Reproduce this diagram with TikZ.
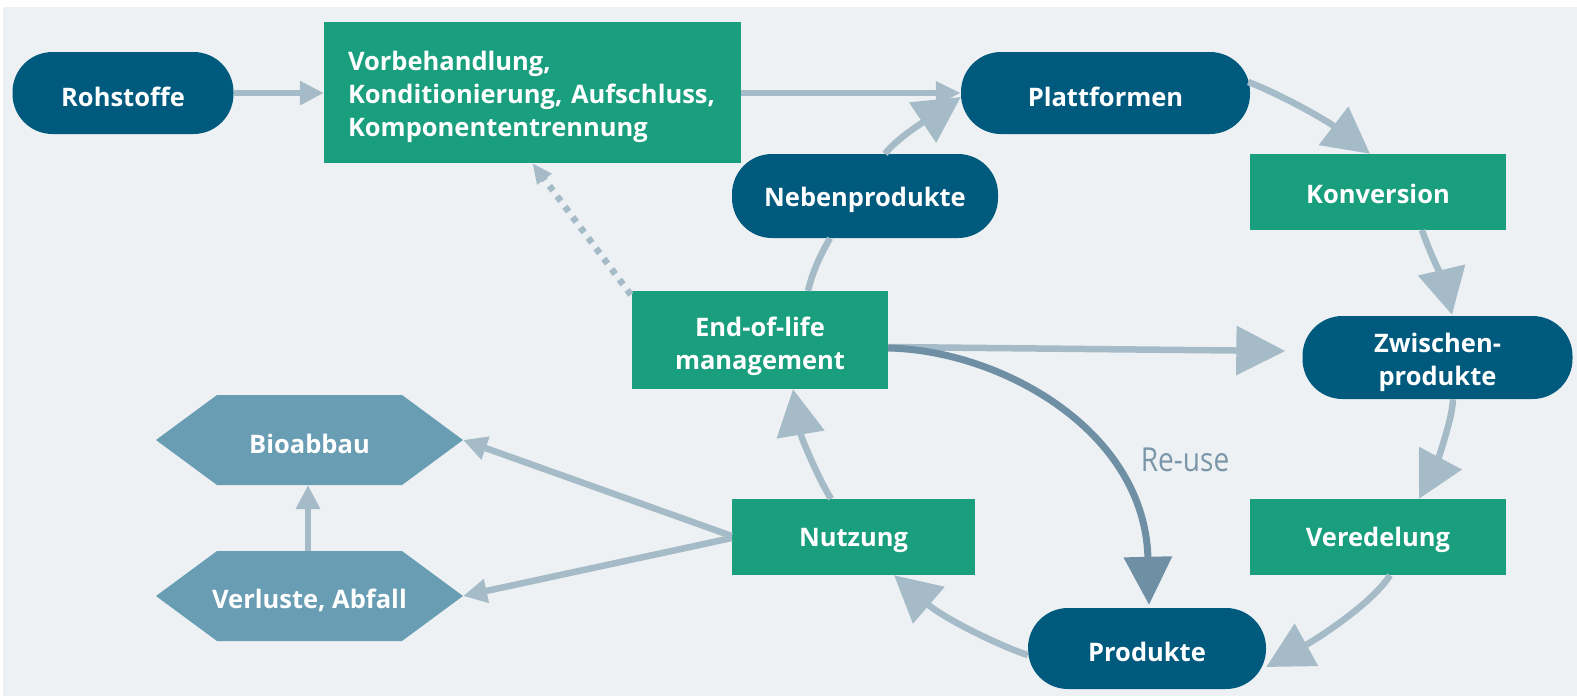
\documentclass[tikz,border=0pt]{standalone}
\usepackage{fontspec}
\usepackage{graphicx}
\setmainfont{Open Sans}
\usetikzlibrary{arrows.meta}
\definecolor{bgc}{HTML}{EDF1F4}
\definecolor{dblue}{HTML}{005A7E}
\definecolor{tgreen}{HTML}{199E7E}
\definecolor{hexc}{HTML}{689DB3}
\definecolor{arrc}{HTML}{A6BBC8}
\definecolor{reusec}{HTML}{6E8FA4}
\definecolor{reusetxt}{HTML}{7B96A8}
\begin{document}
\begin{tikzpicture}[x=1pt,y=-1pt,
  lbl/.style={text=white, font=\fontsize{25.5}{32.8}\selectfont\bfseries, align=center, inner sep=0pt},
  oneline/.style={text height=#1, text depth=0pt},
  oneline/.default=22pt,
  pill/.style={lbl, fill=dblue, rounded corners=40pt},
  gbox/.style={lbl, fill=tgreen},
  conn/.style={draw=arrc, line width=6.5pt},
  bighead/.style={-{Triangle[length=46pt,width=47pt]}},
  smallhead/.style={-{Triangle[length=24pt,width=23pt]}},
  reuse/.style={draw=reusec, line width=7pt, -{Triangle[length=48pt,width=47pt]}},
]
\useasboundingbox (0,0) rectangle (1577,697);
\fill[white] (0,0) rectangle (1577,697);
\fill[bgc] (3,7) rectangle (1577,696);

% hexagons
\coordinate (bioc) at (309.5,440);
\coordinate (verlc) at (309.5,596);
\fill[hexc, shift={(bioc)}] (-153.5,0) -- (-92.5,-45) -- (92.5,-45) -- (153.5,0) -- (92.5,45) -- (-92.5,45) -- cycle;
\fill[hexc, shift={(verlc)}] (-153.5,0) -- (-92.5,-45) -- (92.5,-45) -- (153.5,0) -- (92.5,45) -- (-92.5,45) -- cycle;
\node[lbl, oneline=27.2pt] (bio) at (bioc) {Bioabbau};
\node[lbl, oneline=25.2pt] (verl) at (verlc) {Verluste, Abfall};
\coordinate (bioR) at (463,440);
\coordinate (bioB) at (308,485);
\coordinate (verlR) at (463,596);
\coordinate (verlT) at (308,551);

% nodes
\node[pill, oneline=27.2pt, minimum width=221pt, minimum height=82pt] (roh) at (123,93) {Rohstoffe};
\node[gbox, minimum width=417pt, minimum height=141pt, text width=369pt, align=left, inner xsep=24pt] (vor) at (532.5,92.5) {\raisebox{-4.5pt}[\height][\depth]{\begin{tabular}{@{}l@{}}Vorbehandlung,\\Konditionierung, Aufschluss,\\Komponententrennung\end{tabular}}};
\node[pill, oneline=27.2pt, minimum width=289pt, minimum height=82pt] (plat) at (1105.5,93) {Plattformen};
\node[pill, oneline=21.2pt, minimum width=266pt, minimum height=84pt] (neben) at (865,196) {Nebenprodukte};
\node[gbox, oneline=22.2pt, minimum width=256pt, minimum height=76pt] (konv) at (1378,192) {Konversion};
\node[pill, minimum width=270pt, minimum height=83pt] (zw) at (1437.5,357.5) {\raisebox{-5pt}[\height][\depth]{\begin{tabular}{@{}c@{}}Zwischen-\\produkte\end{tabular}}};
\node[gbox, minimum width=256pt, minimum height=98pt] (eol) at (760,340) {\raisebox{-6.5pt}[\height][\depth]{\begin{tabular}{@{}c@{}}End-of-life\\management\end{tabular}}};
\node[gbox, oneline=19.2pt, minimum width=243pt, minimum height=76pt] (nutz) at (853.5,537) {Nutzung};
\node[gbox, oneline=19.2pt, minimum width=256pt, minimum height=76pt] (ver) at (1378,537) {Veredelung};
\node[pill, oneline=26.2pt, minimum width=238pt, minimum height=81pt] (prod) at (1147,648.5) {Produkte};
\node[text=reusetxt, font=\fontsize{33}{33}\selectfont, anchor=base, inner sep=0pt] (reusetext) at (1185,471) {\scalebox{0.85}[1]{Re-use}};

% connectors
\draw[conn, smallhead] (roh.east) -- (roh.east -| vor.west);
\draw[conn, -{Triangle[length=25pt,width=22pt]}] (vor.east |- plat.west) -- (plat.west);
\draw[conn, bighead] ([xshift=20pt]neben.north) .. controls (897,138) and (928,119) .. ([yshift=-4pt]plat.west);
\draw[conn] ([xshift=48pt]eol.north) .. controls (813,270) and (821,254) .. ([xshift=-35pt]neben.south);
\draw[conn, bighead] ([xshift=-2pt,yshift=11pt]plat.east) .. controls (1280,94) and (1326,120) .. ([xshift=-8pt]konv.north);
\draw[conn, bighead] ([xshift=44pt]konv.south) .. controls (1428,248) and (1446,289) .. ([xshift=14.5pt,yshift=1pt]zw.north);
\draw[conn, bighead] ([xshift=15.5pt]zw.south) .. controls (1452,425) and (1430,478) .. ([xshift=41pt]ver.north);
\draw[conn, bighead] ([xshift=12pt]ver.south) .. controls (1372,604) and (1315,640) .. ([yshift=-18.5pt]prod.east);
\draw[conn, bighead] ([yshift=-6.5pt]prod.west) .. controls (1005,648) and (946,620) .. ([xshift=40.5pt]nutz.south);
\draw[conn, bighead] ([xshift=-22.5pt]nutz.north) .. controls (818,478) and (801,437) .. ([xshift=33pt]eol.south);
\draw[conn, -{Triangle[length=49pt,width=48pt]}] ([yshift=-7pt]eol.east) -- ([xshift=-17pt,yshift=6.5pt]zw.west);
\draw[reuse] ([yshift=-8pt]eol.east) .. controls (1000,350) and (1145,430) .. ([xshift=2pt,yshift=3pt]prod.north);
\draw[conn, smallhead] ([yshift=1pt]nutz.west) -- (bioR);
\draw[conn, smallhead] ([yshift=-1pt]nutz.west) -- (verlR);
\draw[conn, smallhead] (verlT) -- (bioB);
\draw[conn, dash pattern=on 6pt off 7pt, -{Triangle[length=20pt,width=17pt]}] ([xshift=-1pt,yshift=-4pt]eol.north west) -- (vor.south);
\end{tikzpicture}
\end{document}
